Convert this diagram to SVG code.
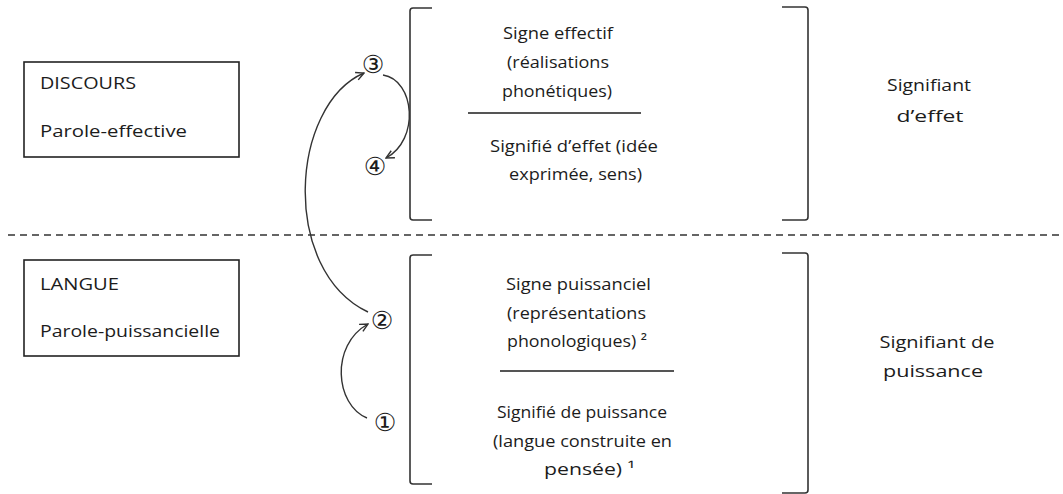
<svg xmlns="http://www.w3.org/2000/svg" width="1063" height="494" viewBox="0 0 1063 494">
<defs>
<style>
.t{font-family:"Open Sans","Liberation Sans",sans-serif;font-size:17px;fill:#1c1c1c}
.c{font-family:"Open Sans","Liberation Sans",sans-serif;font-size:17px;fill:#1c1c1c;text-anchor:middle}
.n{font-family:"DejaVu Sans",sans-serif;font-size:25px;fill:#1c1c1c;text-anchor:middle}
.box{fill:#fff;stroke:#222;stroke-width:1.6}
.br{fill:none;stroke:#333;stroke-width:1.6}
.sep{stroke:#1c1c1c;stroke-width:1.3}
.arr{fill:none;stroke:#333;stroke-width:1.4;marker-end:url(#ah)}
</style>
<marker id="ah" viewBox="0 0 10 10" refX="9" refY="5" markerWidth="10" markerHeight="10" markerUnits="userSpaceOnUse" orient="auto">
<path d="M1 1 L9 5 L1 9" fill="none" stroke="#333" stroke-width="1.4"/>
</marker>
</defs>
<rect width="1063" height="494" fill="#fff"/>

<line x1="8" y1="235" x2="1063" y2="235" stroke="#333" stroke-width="1.3" stroke-dasharray="7 5"/>

<g id="discours">
<rect class="box" x="24" y="62" width="215" height="95"/>
<text class="t" x="40" y="89" textLength="96" lengthAdjust="spacingAndGlyphs">DISCOURS</text>
<text class="t" x="40" y="137" textLength="147" lengthAdjust="spacingAndGlyphs">Parole-effective</text>
</g>

<g id="langue">
<rect class="box" x="24" y="260" width="215" height="96"/>
<text class="t" x="40" y="290" textLength="79" lengthAdjust="spacingAndGlyphs">LANGUE</text>
<text class="t" x="40" y="337" textLength="180" lengthAdjust="spacingAndGlyphs">Parole-puissancielle</text>
</g>

<g id="signe-effectif">
<path class="br" d="M432 8 L413 8 Q410 8 410 11 L410 217 Q410 220 413 220 L432 220"/>
<path class="br" d="M782 7 L805 7 Q808 7 808 10 L808 217 Q808 220 805 220 L782 220"/>
<text class="t" x="503" y="39" textLength="110" lengthAdjust="spacingAndGlyphs">Signe effectif</text>
<text class="t" x="507" y="68" textLength="102" lengthAdjust="spacingAndGlyphs">(réalisations</text>
<text class="t" x="502" y="97" textLength="110" lengthAdjust="spacingAndGlyphs">phonétiques)</text>
<line class="sep" x1="468" y1="113" x2="641" y2="113"/>
<text class="t" x="490" y="152" textLength="168" lengthAdjust="spacingAndGlyphs">Signifié d’effet (idée</text>
<text class="t" x="509" y="180" textLength="133" lengthAdjust="spacingAndGlyphs">exprimée, sens)</text>
</g>

<g id="signe-puissanciel">
<path class="br" d="M432 255 L413 255 Q410 255 410 258 L410 481 Q410 484 413 484 L432 484"/>
<path class="br" d="M782 253 L805 253 Q808 253 808 256 L808 490 Q808 493 805 493 L782 493"/>
<text class="t" x="506" y="290" textLength="145" lengthAdjust="spacingAndGlyphs">Signe puissanciel</text>
<text class="t" x="507" y="319" textLength="139" lengthAdjust="spacingAndGlyphs">(représentations</text>
<text class="t" x="507" y="347" textLength="140" lengthAdjust="spacingAndGlyphs">phonologiques) ²</text>
<line class="sep" x1="500" y1="371" x2="674" y2="371"/>
<text class="t" x="497" y="418" textLength="170" lengthAdjust="spacingAndGlyphs">Signifié de puissance</text>
<text class="t" x="493" y="447" textLength="179" lengthAdjust="spacingAndGlyphs">(langue construite en</text>
<text class="t" x="544" y="475" textLength="91" lengthAdjust="spacingAndGlyphs">pensée) ¹</text>
</g>

<g id="signifiant-effet">
<text class="c" x="929" y="91" textLength="84" lengthAdjust="spacingAndGlyphs">Signifiant</text>
<text class="c" x="930" y="122" textLength="67" lengthAdjust="spacingAndGlyphs">d’effet</text>
</g>

<g id="signifiant-puissance">
<text class="c" x="937" y="348" textLength="115" lengthAdjust="spacingAndGlyphs">Signifiant de</text>
<text class="c" x="933" y="377" textLength="100" lengthAdjust="spacingAndGlyphs">puissance</text>
</g>

<g id="n3"><text class="n" x="373" y="73">③</text></g>
<g id="n4"><text class="n" x="375" y="175">④</text></g>
<g id="n2"><text class="n" x="382" y="329">②</text></g>
<g id="n1"><text class="n" x="385" y="431">①</text></g>

<g id="connectors">
<path class="arr" d="M368 312 C280 270 290 105 364 73"/>
<path class="arr" d="M383 75 C415 80 420 140 386 158"/>
<path class="arr" d="M367 418 C335 405 330 345 368 324"/>
</g>
</svg>
